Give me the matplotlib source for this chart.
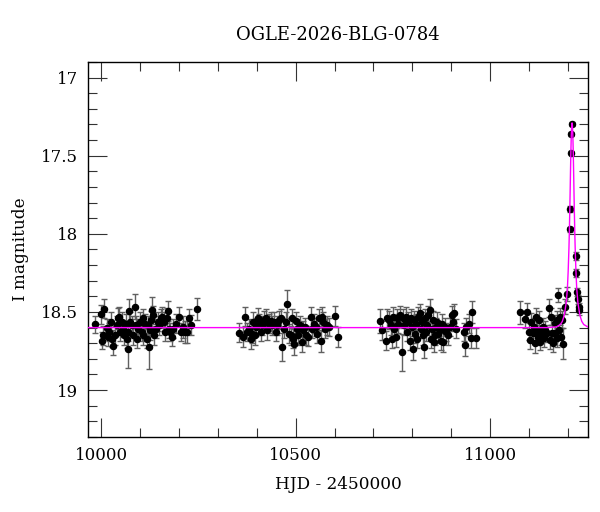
import matplotlib
matplotlib.use("Agg")
import matplotlib.pyplot as plt
from matplotlib.ticker import MultipleLocator

plt.rcParams['font.family'] = ['DejaVu Serif']

title = "OGLE-2026-BLG-0784"
xlabel = "HJD - 2450000"
ylabel = "I magnitude"

# observations: (HJD-2450000, I mag, error)
s1_t = [9983.7, 9998.3, 10000.9, 10005.2, 10007.7, 10013.7, 10016.3, 10019.7, 10024.9, 10028.3,
        10030.9, 10035.2, 10039.4, 10042.0, 10045.4, 10048.0, 10052.3, 10056.6, 10059.2, 10062.6,
        10065.2, 10067.7, 10069.4, 10071.2, 10073.7, 10078.0, 10082.3, 10086.6, 10088.3, 10090.9,
        10095.2, 10099.4, 10103.7, 10106.3, 10108.0, 10112.3, 10116.6, 10119.1, 10122.6, 10125.1,
        10127.7, 10129.4, 10133.7, 10136.3, 10140.6, 10144.9, 10148.3, 10153.4, 10156.9, 10160.3,
        10163.7, 10168.0, 10170.6, 10174.0, 10177.4, 10180.9, 10185.1, 10191.1, 10199.7, 10204.0,
        10210.9, 10215.1, 10219.4, 10225.4, 10230.6, 10246.0]
s1_m = [18.580, 18.515, 18.683, 18.650, 18.480, 18.600, 18.660, 18.628, 18.563, 18.672,
        18.715, 18.650, 18.585, 18.541, 18.530, 18.628, 18.563, 18.607, 18.650, 18.574,
        18.672, 18.628, 18.737, 18.494, 18.563, 18.585, 18.650, 18.465, 18.585, 18.672,
        18.607, 18.563, 18.628, 18.650, 18.541, 18.574, 18.672, 18.585, 18.726, 18.617,
        18.552, 18.487, 18.520, 18.650, 18.607, 18.563, 18.585, 18.541, 18.530, 18.563,
        18.628, 18.541, 18.494, 18.607, 18.628, 18.660, 18.607, 18.574, 18.530, 18.628,
        18.596, 18.628, 18.628, 18.541, 18.585, 18.483]
s1_e = [0.055, 0.060, 0.055, 0.060, 0.060, 0.055, 0.060, 0.055, 0.060, 0.055,
        0.060, 0.060, 0.060, 0.065, 0.060, 0.060, 0.060, 0.055, 0.060, 0.060,
        0.060, 0.060, 0.120, 0.080, 0.060, 0.060, 0.060, 0.080, 0.060, 0.060,
        0.060, 0.060, 0.060, 0.060, 0.060, 0.060, 0.060, 0.060, 0.140, 0.060,
        0.060, 0.080, 0.060, 0.060, 0.060, 0.060, 0.060, 0.060, 0.060, 0.060,
        0.060, 0.065, 0.065, 0.060, 0.060, 0.060, 0.060, 0.060, 0.060, 0.060,
        0.070, 0.070, 0.070, 0.060, 0.065, 0.070]

s2_t = [10354.0, 10365.2, 10369.5, 10375.5, 10379.8, 10384.0, 10388.3, 10390.9, 10395.2, 10398.6,
        10402.0, 10405.5, 10409.7, 10414.0, 10418.3, 10422.6, 10426.9, 10431.2, 10435.5, 10439.7,
        10444.0, 10448.3, 10452.6, 10456.9, 10461.2, 10465.5, 10469.7, 10474.0, 10478.3, 10482.6,
        10486.9, 10489.4, 10492.9, 10496.3, 10499.7, 10502.3, 10506.6, 10510.9, 10515.2, 10518.6,
        10523.7, 10527.2, 10532.3, 10538.3, 10542.6, 10546.9, 10551.2, 10555.4, 10559.7, 10564.0,
        10568.3, 10570.9, 10575.1, 10581.1, 10585.4, 10600.0, 10609.4]
s2_m = [18.633, 18.661, 18.531, 18.628, 18.607, 18.672, 18.639, 18.563, 18.650, 18.596,
        18.537, 18.574, 18.628, 18.585, 18.552, 18.541, 18.617, 18.574, 18.559, 18.585,
        18.563, 18.628, 18.585, 18.552, 18.541, 18.722, 18.607, 18.563, 18.450, 18.639,
        18.650, 18.541, 18.672, 18.704, 18.559, 18.607, 18.650, 18.585, 18.694, 18.617,
        18.596, 18.650, 18.657, 18.531, 18.607, 18.574, 18.596, 18.639, 18.541, 18.683,
        18.531, 18.563, 18.607, 18.585, 18.596, 18.524, 18.661]
s2_e = [0.060, 0.065, 0.060, 0.060, 0.060, 0.065, 0.060, 0.060, 0.060, 0.060,
        0.060, 0.060, 0.060, 0.060, 0.060, 0.060, 0.060, 0.060, 0.060, 0.060,
        0.060, 0.060, 0.060, 0.060, 0.060, 0.090, 0.060, 0.060, 0.090, 0.060,
        0.060, 0.060, 0.060, 0.070, 0.060, 0.060, 0.060, 0.060, 0.065, 0.060,
        0.060, 0.060, 0.060, 0.060, 0.060, 0.060, 0.060, 0.060, 0.060, 0.070,
        0.060, 0.060, 0.060, 0.060, 0.060, 0.065, 0.065]

s3_t = [10715.9, 10721.0, 10731.3, 10735.6, 10739.9, 10744.1, 10746.7, 10750.1, 10753.6, 10757.0,
        10759.6, 10763.8, 10767.3, 10772.4, 10775.8, 10779.3, 10782.7, 10786.1, 10789.6, 10793.0,
        10795.6, 10798.1, 10801.6, 10804.1, 10806.7, 10810.1, 10812.7, 10815.3, 10818.7, 10821.3,
        10823.8, 10827.3, 10829.8, 10832.4, 10835.8, 10838.4, 10841.0, 10844.4, 10847.0, 10849.5,
        10853.0, 10855.5, 10858.1, 10861.5, 10864.1, 10866.7, 10870.1, 10873.5, 10877.0, 10879.5,
        10883.8, 10887.3, 10892.4, 10895.8, 10901.0, 10904.4, 10907.8, 10911.3, 10933.5, 10935.2,
        10938.7, 10945.5, 10949.8, 10954.1, 10964.4]
s3_m = [18.559, 18.617, 18.683, 18.541, 18.552, 18.585, 18.672, 18.531, 18.607, 18.661,
        18.541, 18.574, 18.520, 18.759, 18.541, 18.585, 18.531, 18.628, 18.563, 18.683,
        18.541, 18.596, 18.737, 18.552, 18.639, 18.574, 18.672, 18.531, 18.509, 18.607,
        18.563, 18.650, 18.726, 18.541, 18.628, 18.585, 18.520, 18.487, 18.672, 18.607,
        18.552, 18.694, 18.650, 18.596, 18.563, 18.639, 18.617, 18.683, 18.574, 18.694,
        18.596, 18.628, 18.650, 18.596, 18.520, 18.563, 18.509, 18.607, 18.628, 18.711,
        18.596, 18.574, 18.667, 18.498, 18.665]
s3_e = [0.075, 0.060, 0.060, 0.060, 0.060, 0.060, 0.060, 0.060, 0.060, 0.060,
        0.060, 0.060, 0.060, 0.120, 0.060, 0.060, 0.060, 0.060, 0.060, 0.060,
        0.060, 0.060, 0.070, 0.060, 0.060, 0.060, 0.060, 0.060, 0.060, 0.060,
        0.060, 0.060, 0.070, 0.060, 0.060, 0.060, 0.060, 0.070, 0.060, 0.060,
        0.060, 0.060, 0.060, 0.060, 0.060, 0.060, 0.060, 0.060, 0.060, 0.060,
        0.060, 0.060, 0.060, 0.060, 0.060, 0.060, 0.060, 0.060, 0.060, 0.070,
        0.060, 0.060, 0.065, 0.070, 0.065]

s4_t = [11076.8, 11090.5, 11095.7, 11099.0, 11103.4, 11106.0, 11109.4, 11112.0, 11114.5, 11118.0,
        11120.5, 11123.0, 11124.8, 11128.2, 11131.6, 11135.0, 11137.6, 11142.0, 11146.2, 11150.5,
        11153.0, 11155.6, 11159.0, 11162.5, 11166.0, 11167.6, 11171.0, 11172.8, 11176.0, 11178.0,
        11180.5, 11182.2, 11184.8, 11187.3, 11191.6, 11197.6,
        11204.5, 11206.0, 11208.0, 11209.0, 11211.3,
        11220.0, 11221.6, 11223.3, 11225.0, 11227.6, 11230.0]
s4_m = [18.503, 18.546, 18.503, 18.625, 18.679, 18.561, 18.636, 18.593, 18.700, 18.529,
        18.614, 18.657, 18.550, 18.689, 18.636, 18.593, 18.668, 18.614, 18.636, 18.475,
        18.679, 18.529, 18.636, 18.700, 18.572, 18.636, 18.550, 18.668, 18.390, 18.614,
        18.529, 18.657, 18.550, 18.704, 18.465, 18.383,
        17.972, 17.840, 17.480, 17.362, 17.298,
        18.143, 18.250, 18.370, 18.420, 18.470, 18.490]
s4_e = [0.075, 0.055, 0.060, 0.055, 0.060, 0.055, 0.055, 0.055, 0.060, 0.055,
        0.055, 0.055, 0.055, 0.055, 0.055, 0.055, 0.055, 0.055, 0.055, 0.060,
        0.055, 0.055, 0.055, 0.055, 0.055, 0.055, 0.055, 0.055, 0.045, 0.055,
        0.055, 0.055, 0.055, 0.100, 0.050, 0.045,
        0.018, 0.018, 0.012, 0.012, 0.012,
        0.025, 0.025, 0.025, 0.030, 0.030, 0.030]

# model light curve
model_t = [9966, 11150, 11171, 11181, 11186, 11191, 11196, 11199, 11201, 11203,
           11204, 11205, 11206, 11207, 11208, 11209, 11210, 11211, 11212, 11213,
           11214, 11215, 11216, 11217, 11218, 11219, 11221, 11223, 11226, 11231,
           11236, 11241, 11251, 11252]
model_mag = [18.6, 18.6, 18.595, 18.58, 18.56, 18.52, 18.44, 18.35, 18.24, 18.09,
             17.99, 17.87, 17.74, 17.60, 17.47, 17.37, 17.31, 17.29, 17.31, 17.37,
             17.47, 17.60, 17.74, 17.87, 17.99, 18.09, 18.24, 18.35, 18.44, 18.52,
             18.56, 18.58, 18.595, 18.596]

t_all = s1_t + s2_t + s3_t + s4_t
m_all = s1_m + s2_m + s3_m + s4_m
e_all = s1_e + s2_e + s3_e + s4_e

fig = plt.figure(figsize=(6.0, 5.12), dpi=100)
ax = fig.add_axes([0.1467, 0.1465, 0.98 - 0.1467, 0.879 - 0.1465])

ax.errorbar(t_all, m_all, yerr=e_all, fmt='o', color='black', ms=4.4,
            ecolor='#606060', elinewidth=1.0, capsize=2.5, capthick=1.0, zorder=2)
ax.plot(model_t, model_mag, color='#ff00ff', lw=1.0, zorder=3)

ax.set_xlim(9966, 11252)
ax.set_ylim(19.3, 16.9)

ax.xaxis.set_major_locator(MultipleLocator(500))
ax.xaxis.set_minor_locator(MultipleLocator(100))
ax.yaxis.set_major_locator(MultipleLocator(0.5))
ax.yaxis.set_minor_locator(MultipleLocator(0.1))
ax.yaxis.set_major_formatter(plt.FuncFormatter(lambda v, p: f"{v:g}"))

ax.tick_params(which='both', direction='in', top=True, right=True, width=0.8, color='#333333')
ax.tick_params(which='major', length=13.7)
ax.tick_params(which='minor', length=6.7)
ax.tick_params(axis='x', which='major', labelsize=12, pad=7.5)
ax.tick_params(axis='y', which='major', labelsize=12, pad=7)
for s in ax.spines.values():
    s.set_linewidth(1.0)

ax.set_title(title, fontsize=13, pad=16)
ax.set_xlabel(xlabel, fontsize=12.2, labelpad=8)
ax.set_ylabel(ylabel, fontsize=12.2, labelpad=9)

fig.savefig("out.png", dpi=100)
